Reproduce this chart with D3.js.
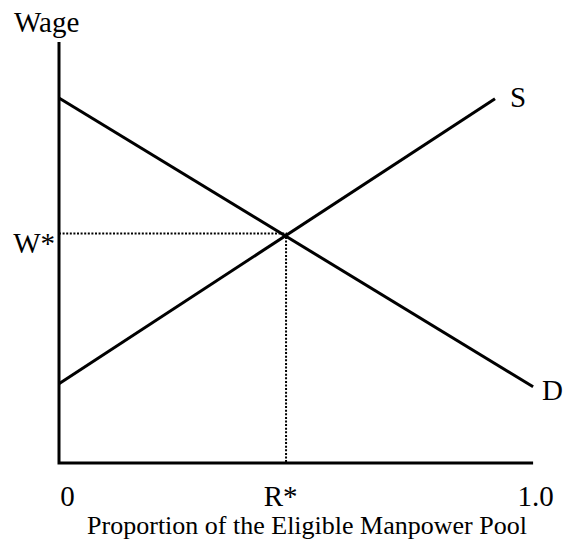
<!DOCTYPE html>
<html>
<head>
<style>
  body {
    background-color: white;
    margin: 0px;
  }
  text {
    font-family: "Liberation Serif", "Times New Roman", serif;
    fill: black;
  }
  path {
    fill: none;
  }
</style>
<script src="https://cdn.jsdelivr.net/npm/d3@7"></script>
</head>
<body>
  <svg></svg>
</body>
<script>
// curves (proportion, wage on a 0..1 scale)
const demand = [[0, 0.867], [0.996, 0.181]];
const supply = [[0, 0.188], [0.916, 0.865]];
const equilibrium = [0.477, 0.545];   // R*, W*
const curveLabels = ["S", "D"];
const xTickValues = [0, 0.477, 1.0];
const xTickLabels = ["0", "R*", "1.0"];
const yLabel = "Wage";
const yTickLabel = "W*";
const xTitle = "Proportion of the Eligible Manpower Pool";

const width = 563,
    height = 550;

const svg = d3.select("svg")
    .attr("width", width)
    .attr("height", height);

const x = d3.scaleLinear().domain([0, 1]).range([59, 535]);
const y = d3.scaleLinear().domain([0, 1]).range([463, 42]);

const line = d3.line()
    .x(function(d) {return x(d[0])})
    .y(function(d) {return y(d[1])});

// axes: plain L shape, no tick marks
svg.append("path")
    .attr("d", "M" + x(0) + "," + y(1) + "L" + x(0) + "," + y(0) + "L" + x(0.996) + "," + y(0))
    .style("stroke", "black")
    .style("stroke-width", 3);

// dotted guides to the equilibrium
svg.append("path")
    .attr("d", line([[0, equilibrium[1]], equilibrium, [equilibrium[0], 0]]))
    .style("stroke", "black")
    .style("stroke-width", 2)
    .style("stroke-dasharray", "2,1.6");

svg.selectAll(".curve")
    .data([supply, demand])
  .enter().append("path")
    .attr("class", "curve")
    .attr("d", line)
    .style("stroke", "black")
    .style("stroke-width", 3);

// S and D labels just past the ends of the curves
svg.append("text")
    .attr("x", x(supply[1][0]) + 15)
    .attr("y", y(supply[1][1]) + 8)
    .style("font-size", "29px")
    .text(curveLabels[0]);

svg.append("text")
    .attr("x", x(demand[1][0]) + 9)
    .attr("y", y(demand[1][1]) + 13)
    .style("font-size", "29px")
    .text(curveLabels[1]);

const xAxis = d3.axisBottom(x)
    .tickValues(xTickValues)
    .tickSize(0)
    .tickPadding(22)
    .tickFormat(function(d, i) {return xTickLabels[i]});

const gx = svg.append("g")
    .attr("transform", "translate(0," + y(0) + ")")
    .call(xAxis);
gx.select(".domain").remove();
gx.selectAll("text")
    .attr("font-family", null)
    .style("font-size", "29px")
    .attr("dy", "0.71em")
    .attr("dx", function(d, i) {return i == 0 ? 8 : (i == 1 ? -6 : 0)});

svg.append("text")
    .attr("x", x(0) - 4)
    .attr("y", y(equilibrium[1]) + 19)
    .attr("text-anchor", "end")
    .style("font-size", "29px")
    .text(yTickLabel);

svg.append("text")
    .attr("x", 14)
    .attr("y", 32)
    .style("font-size", "29px")
    .text(yLabel);

svg.append("text")
    .attr("x", 307)
    .attr("y", 534)
    .attr("text-anchor", "middle")
    .style("font-size", "26px")
    .text(xTitle);
</script>
</html>
